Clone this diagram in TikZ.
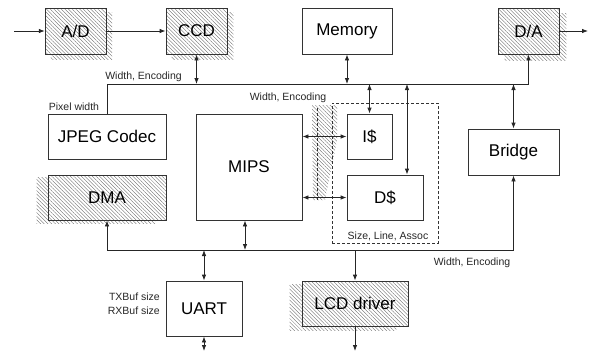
\documentclass[tikz,border=0pt]{standalone}
\usepackage{fontspec}
\setmainfont{Liberation Sans}
\usetikzlibrary{arrows.meta,patterns.meta,backgrounds}

\begin{document}
\begin{tikzpicture}[x=1pt, y=-1pt, >={Latex[length=6pt,width=4.5pt]},
    hatch/.style={pattern={Lines[angle=-45,distance=2.6pt,line width=0.35pt]}, pattern color=black!60},
    blk/.style={draw=black!80, line width=0.8pt, fill=white, inner sep=0pt, font=\fontsize{17}{20}\selectfont},
    hblk/.style={draw=black!80, line width=0.8pt, inner sep=0pt, font=\fontsize{17}{20}\selectfont, preaction={fill=white}, hatch},
    lbl/.style={font=\fontsize{10.5}{12}\selectfont, inner sep=0pt, text=black!85},
    wire/.style={line width=0.8pt, draw=black!85}]
    \useasboundingbox (0,0) rectangle (590,356);

    % top row
    \node[hblk, minimum width=61pt, minimum height=46pt] (ad) at (75.5,31) {A/D};
    \node[hblk, minimum width=61pt, minimum height=46pt] (ccd) at (196.5,31) {CCD};
    \node[blk, minimum width=90pt, minimum height=46pt] (mem) at (347,31) {Memory};
    \node[hblk, minimum width=61pt, minimum height=46pt] (da) at (528.5,31) {D/A};

    % middle
    \node[blk, minimum width=118pt, minimum height=45pt] (jpeg) at (107,136.5) {JPEG Codec};
    \node[hblk, minimum width=118pt, minimum height=45pt] (dma) at (107,197.5) {DMA};
    \node[blk, minimum width=106pt, minimum height=106pt] (mips) at (249,167) {MIPS};
    \node[draw=black!80, line width=0.8pt, dash pattern=on 3pt off 2pt,
        minimum width=106pt, minimum height=140pt] (cachegrp) at (385,173) {};
    \node[blk, minimum width=45pt, minimum height=45pt] (icache) at (369.5,136.5) {I\$};
    \node[blk, minimum width=76pt, minimum height=45pt] (dcache) at (385,197.5) {D\$};
    \node[blk, minimum width=91pt, minimum height=46pt] (bridge) at (513.5,152) {Bridge};

    % bottom row
    \node[blk, minimum width=76pt, minimum height=55pt] (uart) at (204,308.5) {UART};
    \node[hblk, minimum width=106pt, minimum height=45pt] (lcd) at (355,303.5) {LCD driver};

    % shadows
    \begin{scope}[on background layer]
        \path[hatch] ([shift={(6,5)}]ad.north west) rectangle ([shift={(6,5)}]ad.south east);
        \path[hatch] ([shift={(6,5)}]ccd.north west) rectangle ([shift={(6,5)}]ccd.south east);
        \path[hatch] ([shift={(7,6)}]da.north west) rectangle ([shift={(7,6)}]da.south east);
        \path[hatch] ([shift={(-11,3)}]dma.north west) rectangle ([shift={(-11,3)}]dma.south east);
        \path[hatch] ([shift={(-12,4)}]lcd.north west) rectangle ([shift={(-12,4)}]lcd.south east);
        \path[hatch] (312,105) -- (337,105) -- (337,140) -- (325,200) -- (313,200) -- cycle;
    \end{scope}
    \draw[line width=0.6pt, draw=black!80, dash pattern=on 3pt off 2pt] (317,108) -- (317,200);

    % labels
    \node[lbl] (wtop) at (143.5,77) {Width, Encoding};
    \node[lbl] (pix) at (74,107) {Pixel width};
    \node[lbl] (wmid) at (288,98) {Width, Encoding};
    \node[lbl] (sla) at (388,236) {Size, Line, Assoc};
    \node[lbl] (wbot) at (472,263) {Width, Encoding};
    \node[lbl, anchor=east] (txb) at (160,297) {TXBuf size};
    \node[lbl, anchor=east] (rxb) at (160,311) {RXBuf size};

    % free ends
    \coordinate (in) at (14,31);
    \coordinate (out) at (588,31);
    \coordinate (tbus) at (528.5,84);
    \coordinate (dtap) at (407,84);
    \coordinate (bbus) at (106,250);
    \coordinate (uout) at (204,351);
    \coordinate (lout) at (355,351);

    \draw[wire,->] (in) -- (ad);
    \draw[wire,->] (ad) -- (ccd);
    \draw[wire,->] (da) -- (out);

    % top bus
    \draw[wire,->] (jpeg.north) |- (tbus) -- (da.south);
    \draw[wire,<->] (ccd.south) -- (ccd.south |- tbus);
    \draw[wire,<->] (mem.south) -- (mem.south |- tbus);
    \draw[wire,<->] (icache.north) -- (icache.north |- tbus);
    \draw[wire,<->] (dtap) -- (dtap |- dcache.north);
    \draw[wire,<->] (bridge.north) -- (bridge.north |- tbus);
    \draw[wire,<->] (mips.east |- icache.west) -- (icache.west);
    \draw[wire,<->] (mips.east |- dcache.west) -- (dcache.west);

    % bottom bus
    \draw[wire,<->] (dma.south) -- (dma.south |- bbus) -| (bridge.south);
    \draw[wire,<->] ([xshift=-4pt]mips.south) -- ([xshift=-4pt]mips.south |- bbus);
    \draw[wire,<->] (uart.north) -- (uart.north |- bbus);
    \draw[wire,->] (lcd.north |- bbus) -- (lcd.north);
    \draw[wire,<->] (uart.south) -- (uout);
    \draw[wire,->] (lcd.south) -- (lout);
\end{tikzpicture}
\end{document}
